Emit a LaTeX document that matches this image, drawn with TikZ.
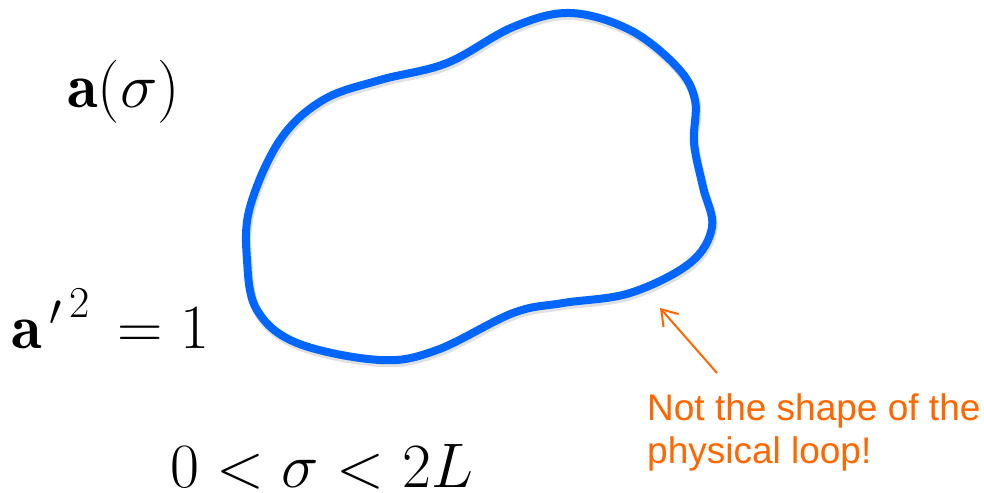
\RequirePackage{fix-cm}
\documentclass[tikz,border=0pt]{standalone}
\usepackage{fontspec}
\newfontfamily\notefont{Liberation Sans}
\usetikzlibrary{arrows.meta}
\definecolor{loopblue}{RGB}{0,102,255}
\definecolor{noteorange}{RGB}{255,102,0}
\tikzset{
  mathlabel/.style={inner sep=0pt, anchor=base west, font=\fontsize{63}{75}\selectfont},
  notetext/.style={inner sep=0pt, anchor=base west, text=noteorange, font=\notefont\fontsize{37}{44}\selectfont},
  looppath/.style={draw=loopblue, line width=8pt},
  loopshadow/.style={draw=black, opacity=0.12, line width=9pt},
  pointer/.style={draw=noteorange, line width=2pt, -{Straight Barb[length=15pt,width=20pt,line width=2pt]}}
}
\def\loopcoords{(570,13) (630,30) (677,67) (695,100) (694,143) (703,187) (712,227)
  (690,263) (630,293) (563,303) (513,313) (437,350) (380,360)
  (297,343) (257,310) (247,260) (250,207) (280,140) (323,100)
  (380,80) (447,63) (513,27)}
\begin{document}
\begin{tikzpicture}[x=1pt,y=-1pt]
\useasboundingbox (0,0) rectangle (984,492);
\begin{scope}[shift={(1,2.5)}]
\draw[loopshadow] plot[smooth cycle, tension=0.6] coordinates {\loopcoords};
\end{scope}
\draw[looppath] plot[smooth cycle, tension=0.6] coordinates {\loopcoords};
\node[mathlabel] (asigma) at (67,108) {$\mathbf{a}(\sigma)$};
\node[mathlabel] (constraint) at (11,348) {${\mathbf{a}^{\,\prime}}^{\,2}\,=1$};
\node[mathlabel] (range) at (170,487) {$0<\sigma<2L$};
\node[notetext] (note1) at (647,420) {Not the shape of the};
\node[notetext] (note2) at (647,463) {physical loop!};
\coordinate (tail) at (717,373);
\coordinate (tip) at (660,308);
\draw[pointer] (tail) -- (tip);
\end{tikzpicture}
\end{document}
